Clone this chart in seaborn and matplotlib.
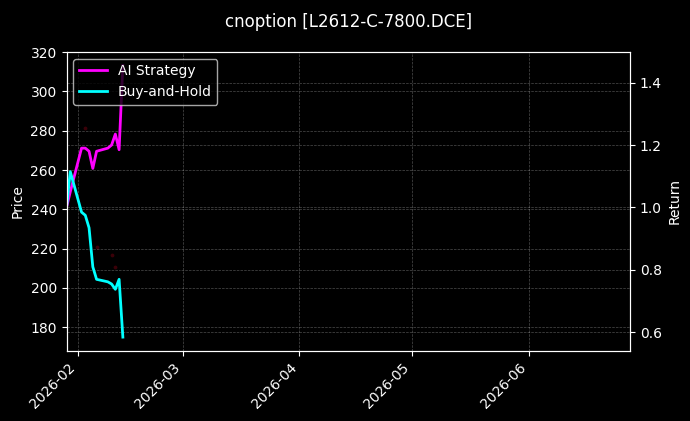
import pandas as pd
import matplotlib
matplotlib.use("Agg")
import matplotlib.pyplot as plt
import matplotlib.dates as mdates
import seaborn as sns

# trading days shown
dates = ["2026-01-29", "2026-01-30", "2026-02-02", "2026-02-03", "2026-02-04", "2026-02-05",
         "2026-02-06", "2026-02-09", "2026-02-10", "2026-02-11", "2026-02-12", "2026-02-13"]
ai_return = [1.0, 1.05, 1.19, 1.19, 1.18, 1.125, 1.18, 1.19, 1.20, 1.235, 1.185, 1.455]
bh_return = [1.0, 1.115, 0.985, 0.975, 0.935, 0.81, 0.77, 0.762, 0.755, 0.738, 0.77, 0.585]

# faint trade markers on the price axis
signal_dates = ["2026-02-03", "2026-02-06", "2026-02-10", "2026-02-11"]
signal_prices = [281.5, 221.0, 216.5, 210.5]

x_start, x_end = "2026-01-29", "2026-06-28"
price_lim = (168.0, 320.2)

df = pd.DataFrame({"date": pd.to_datetime(dates), "AI Strategy": ai_return,
                   "Buy-and-Hold": bh_return})
sig = pd.DataFrame({"date": pd.to_datetime(signal_dates), "price": signal_prices})

plt.style.use("dark_background")
fig, ax1 = plt.subplots(figsize=(6.9, 4.21), dpi=100)
fig.subplots_adjust(left=0.0964, right=0.913, top=0.877, bottom=0.167)
ax2 = ax1.twinx()

ax1.scatter(sig["date"], sig["price"], s=3, color="#3a0008", zorder=1)
ax1.set_ylim(*price_lim)
ax1.set_ylabel("Price")

sns.lineplot(data=df, x="date", y="AI Strategy", ax=ax2, color="magenta",
             linewidth=2, label="AI Strategy")
sns.lineplot(data=df, x="date", y="Buy-and-Hold", ax=ax2, color="cyan",
             linewidth=2, label="Buy-and-Hold")
ax2.set_ylabel("Return")
ax2.set_xlabel("")
ax1.set_xlabel("")

ax1.set_xlim(pd.Timestamp(x_start), pd.Timestamp(x_end))
ax1.xaxis.set_major_locator(mdates.MonthLocator())
ax1.xaxis.set_major_formatter(mdates.DateFormatter("%Y-%m"))
plt.setp(ax1.get_xticklabels(), rotation=45, ha="right")

ax1.grid(True, linestyle="--", linewidth=0.5, alpha=0.3, color="white")
ax2.grid(True, linestyle="--", linewidth=0.5, alpha=0.3, color="white")

leg = ax2.legend(loc="upper left", facecolor="black", edgecolor="#d0d0d0", framealpha=0.8)

fig.suptitle("cnoption [L2612-C-7800.DCE]", fontsize=12, x=0.505, y=0.97)
fig.savefig("out.png", dpi=100, facecolor="black")
